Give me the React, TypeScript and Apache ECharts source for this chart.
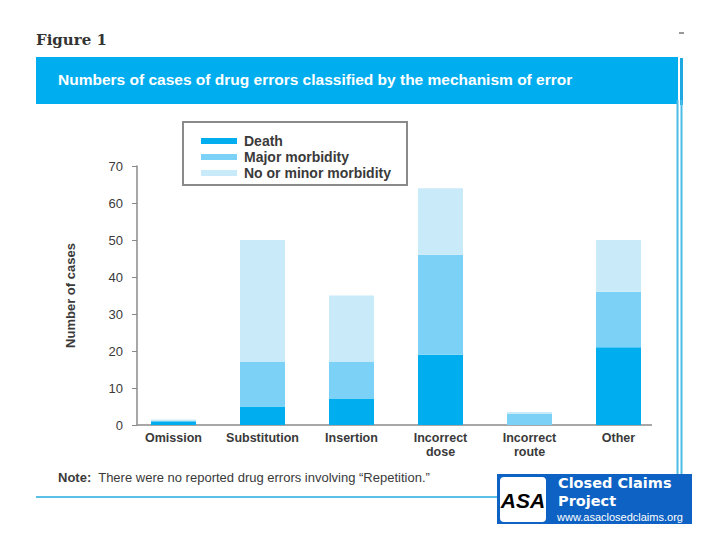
import React, { useEffect, useRef } from "react";
import * as echarts from "echarts";

const categories = ["Omission", "Substitution", "Insertion", "Incorrect\ndose", "Incorrect\nroute", "Other"];
const death = [1, 5, 7, 19, 0, 21];
const majorMorbidity = [0, 12, 10, 27, 3, 15];
const minorMorbidity = [0.5, 33, 18, 18, 0.5, 14];
const seriesNames = ["Death", "Major morbidity", "No or minor morbidity"];
const yTicks = { min: 0, max: 70, interval: 10 };

const FONT = "'Liberation Sans', Arial, sans-serif";

export default function App() {
  const ref = useRef<HTMLDivElement>(null);
  useEffect(() => {
    document.body.style.margin = "0";
    const chart = echarts.init(ref.current!, null, { renderer: "svg" });
    const colors = ["#00AEEF", "#7BD2F6", "#C9EAF9"];
    const option = {
      animation: false,
      backgroundColor: "#ffffff",
      textStyle: { fontFamily: FONT },
      grid: { left: 129, right: 57, top: 166, bottom: 115, containLabel: false },
      legend: {
        orient: "vertical",
        left: 196,
        top: 129,
        itemWidth: 36,
        itemHeight: 6,
        itemGap: 2,
        icon: "rect",
        data: seriesNames,
        textStyle: { fontFamily: FONT, fontSize: 14, fontWeight: "bold", color: "#3a3a3a", padding: [0, 0, 0, 2] },
      },
      xAxis: {
        type: "category",
        data: categories,
        axisLine: { show: false },
        axisTick: { show: false },
        axisLabel: {
          fontFamily: FONT,
          fontSize: 12.5,
          fontWeight: "bold",
          color: "#3a3a3a",
          margin: 6,
          lineHeight: 14,
          interval: 0,
        },
      },
      yAxis: {
        type: "value",
        min: yTicks.min,
        max: yTicks.max,
        interval: yTicks.interval,
        offset: -8,
        name: "Number of cases",
        nameLocation: "middle",
        nameGap: 60,
        nameTextStyle: { fontFamily: FONT, fontSize: 13, fontWeight: "bold", color: "#3a3a3a" },
        axisLine: { show: true, lineStyle: { color: "#8a8a8a", width: 1.5 } },
        axisTick: { show: true, length: 5, lineStyle: { color: "#8a8a8a" } },
        axisLabel: { fontFamily: FONT, fontSize: 13, color: "#3a3a3a", margin: 14 },
        splitLine: { show: false },
      },
      series: [death, majorMorbidity, minorMorbidity].map((d, i) => ({
        name: seriesNames[i],
        type: "bar",
        stack: "total",
        barWidth: 45,
        data: d,
        itemStyle: { color: colors[i] },
      })),
      graphic: [
        { type: "text", left: 36, top: 32, style: { text: "Figure 1", font: "bold 15px 'DejaVu Serif', serif", fill: "#333" } },
        { type: "rect", shape: { x: 36, y: 57, width: 642, height: 47 }, style: { fill: "#00AEEF" } },
        { type: "text", left: 58, top: 71, style: { text: "Numbers of cases of drug errors classified by the mechanism of error", font: "bold 15.5px " + FONT, fill: "#ffffff" } },
        { type: "rect", shape: { x: 680, y: 58, width: 3, height: 47 }, style: { fill: "#1FA8E0" } },
        { type: "line", shape: { x1: 677.5, y1: 100, x2: 677.5, y2: 476 }, style: { stroke: "#4DBBE8", lineWidth: 2 } },
        { type: "line", shape: { x1: 681.5, y1: 100, x2: 681.5, y2: 476 }, style: { stroke: "#4DBBE8", lineWidth: 2 } },
        { type: "line", shape: { x1: 679, y1: 33, x2: 684, y2: 33 }, style: { stroke: "#333", lineWidth: 1 } },
        { type: "rect", shape: { x: 183, y: 122, width: 224, height: 63 }, style: { fill: "none", stroke: "#8a8a8a", lineWidth: 2 } },
        { type: "line", shape: { x1: 137, y1: 425, x2: 652, y2: 425 }, style: { stroke: "#8a8a8a", lineWidth: 1.5 } },
        {
          type: "text",
          left: 58,
          top: 471,
          style: {
            rich: {
              b: { font: "bold 13px " + FONT, fill: "#3a3a3a" },
              n: { font: "13px " + FONT, fill: "#3a3a3a" },
            },
            text: "{b|Note:}{n|  There were no reported drug errors involving \u201cRepetition.\u201d}",
          },
        },
        { type: "line", shape: { x1: 36, y1: 497, x2: 500, y2: 497 }, style: { stroke: "#5BC0E8", lineWidth: 2 } },
        { type: "rect", shape: { x: 497, y: 474, width: 195, height: 50 }, style: { fill: "#0E62C4" } },
        { type: "rect", shape: { x: 500, y: 477, width: 46, height: 45, r: 4 }, style: { fill: "#ffffff" } },
        { type: "text", x: 523, y: 500, style: { text: "ASA", font: "italic bold 21px " + FONT, fill: "#000", align: "center", verticalAlign: "middle" } },
        { type: "text", left: 558, top: 475, style: { text: "Closed Claims", font: "bold 14.5px 'DejaVu Sans', sans-serif", fill: "#ffffff" } },
        { type: "text", left: 558, top: 493, style: { text: "Project", font: "bold 14.5px 'DejaVu Sans', sans-serif", fill: "#ffffff" } },
        { type: "text", left: 557, top: 511, style: { text: "www.asaclosedclaims.org", font: "11px " + FONT, fill: "#ffffff" } },
      ],
    };
    chart.setOption(option as any);
    return () => chart.dispose();
  }, []);
  return <div ref={ref} style={{ width: 720, height: 540 }} />;
}
